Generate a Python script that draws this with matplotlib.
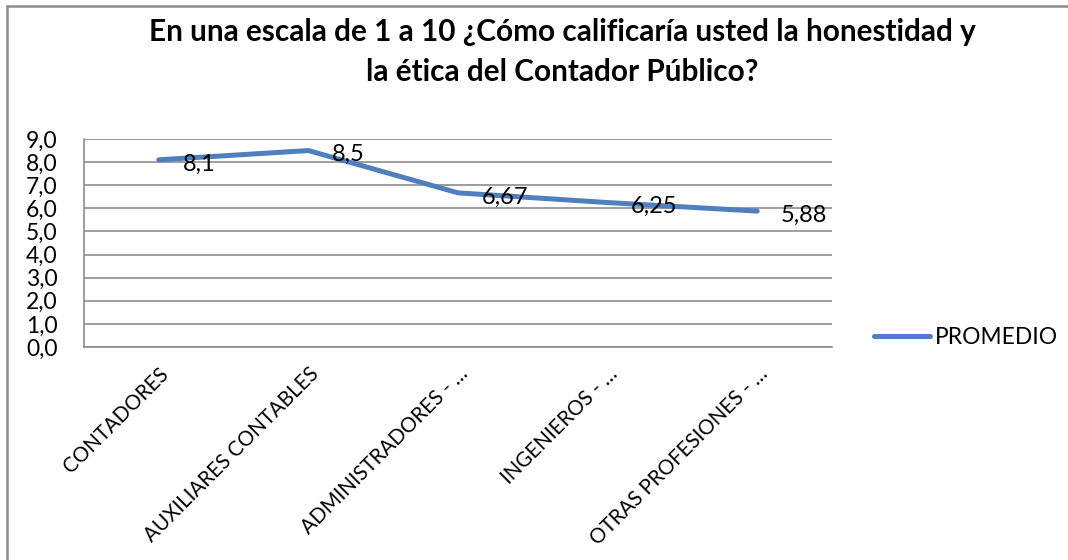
import matplotlib
matplotlib.use("Agg")
import matplotlib.pyplot as plt
from matplotlib.patches import Rectangle
from matplotlib.ticker import FuncFormatter

categories = ["CONTADORES", "AUXILIARES CONTABLES", "ADMINISTRADORES - …",
              "INGENIEROS - …", "OTRAS PROFESIONES - …"]
values = [8.1, 8.5, 6.67, 6.25, 5.88]
value_labels = ["8,1", "8,5", "6,67", "6,25", "5,88"]
series_name = "PROMEDIO"
title = "En una escala de 1 a 10 ¿Cómo calificaría usted la honestidad y\nla ética del Contador Público?"

plt.rcParams['font.family'] = ['Lato', 'DejaVu Sans']

W, H = 1068, 560
fig = plt.figure(figsize=(W / 100, H / 100), dpi=100)
fig.patch.set_facecolor("white")

# outer frame
fig.add_artist(Rectangle((7 / W, -0.05), 1.2, 1 - 6 / H + 0.05, transform=fig.transFigure,
                         fill=False, edgecolor="#8c8c8c", linewidth=1.8))

ax = fig.add_axes([84 / W, 1 - 347 / H, (832 - 84) / W, (347 - 139) / H])
x = list(range(len(categories)))
line, = ax.plot(x, values, color="#4F7FBD", linewidth=3.6, solid_capstyle="round",
                solid_joinstyle="round", label=series_name)

ax.set_xlim(-0.5, len(categories) - 0.5)
ax.set_ylim(0, 9)
ax.set_yticks(range(0, 10))
ax.yaxis.set_major_formatter(FuncFormatter(lambda v, p: f"{v:.1f}".replace(".", ",")))
ax.grid(axis="y", color="#8c8c8c", linewidth=1.2)
ax.set_axisbelow(True)
for s in ["top", "right"]:
    ax.spines[s].set_visible(False)
for s in ["left", "bottom"]:
    ax.spines[s].set_color("#8c8c8c")
    ax.spines[s].set_linewidth(1.2)
ax.tick_params(axis="both", length=0)
ax.tick_params(axis="y", pad=19, labelsize=16.5)
ax.set_xticks(x)
ax.set_xticklabels(categories, rotation=45, ha="right", rotation_mode="anchor",
                   fontsize=14.8)
ax.tick_params(axis="x", pad=12)

for xi, v, t in zip(x, values, value_labels):
    ax.annotate(t, (xi, v), xytext=(17, -3), textcoords="offset points",
                ha="left", va="center", fontsize=17)

fig.text(562 / W, 1 - 52 / H, title, ha="center", va="center", fontsize=21.4,
         fontweight="bold", linespacing=1.5)

leg = fig.legend(handles=[line], loc="center left", bbox_to_anchor=(853 / W, 1 - 337 / H),
                 frameon=False, fontsize=16.4, handlelength=2.5, handletextpad=0.2)

fig.savefig("out.png", dpi=100, facecolor="white")
